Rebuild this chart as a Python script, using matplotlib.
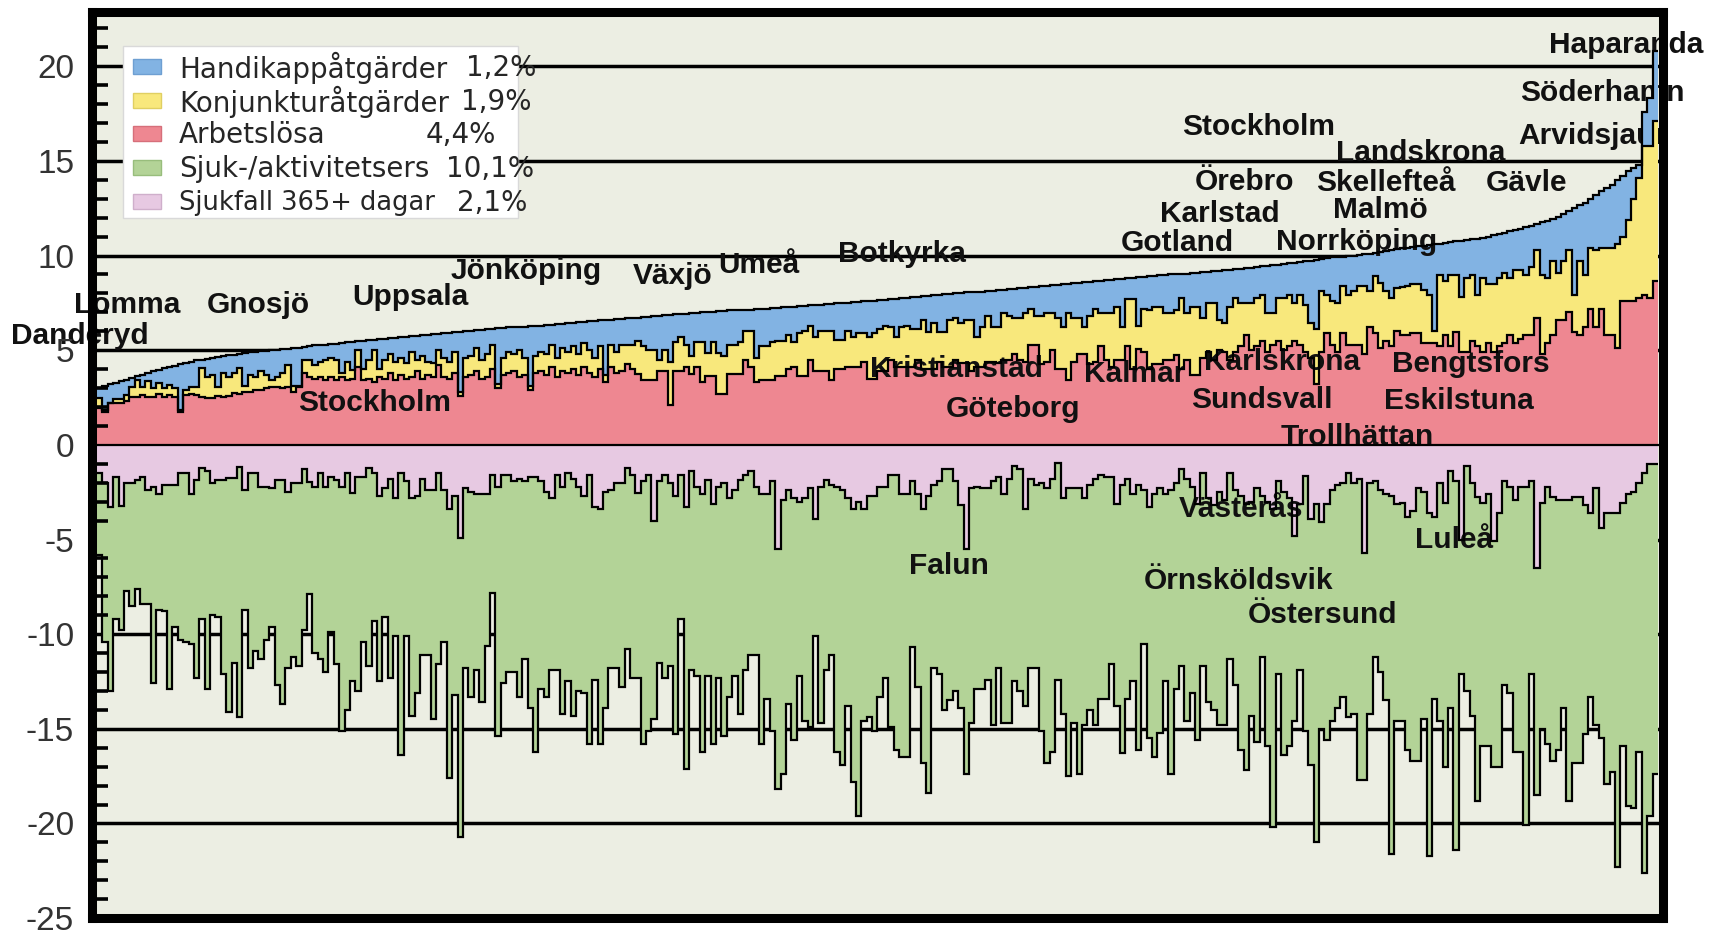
import numpy as np
import matplotlib
matplotlib.use('Agg')
import matplotlib.pyplot as plt
from matplotlib.patches import Rectangle

# ---- data, one value per municipality, sorted by total ----
# upper side: cumulative tops of Arbetslösa, +Konjunkturåtgärder, +Handikappåtgärder
arbetslosa_topp = [
    1.94, 1.76, 2.2, 2.2, 2.2, 2.3, 2.55, 2.55, 2.64, 2.55,
    2.55, 2.7, 2.55, 2.64, 2.55, 1.76, 2.64, 2.7, 2.64, 2.55,
    2.46, 2.46, 2.6, 2.55, 2.6, 2.73, 2.7, 2.8, 2.8, 2.9,
    2.9, 3.0, 3.08, 3.08, 3.0, 3.08, 2.8, 3.08, 3.8, 3.6,
    3.5, 3.6, 3.4, 3.6, 3.4, 3.6, 3.4, 3.5, 4.1, 3.4,
    3.5, 3.3, 3.6, 3.5, 3.8, 3.4, 3.7, 3.5, 3.6, 3.9,
    3.5, 3.7, 3.6, 4.2, 3.6, 3.5, 3.8, 2.6, 3.6, 3.7,
    3.9, 3.5, 3.6, 4.0, 3.0, 3.7, 3.8, 3.9, 3.6, 3.7,
    2.9, 3.8, 3.9, 3.7, 4.1, 3.6, 3.9, 3.8, 4.0, 3.7,
    4.1, 3.8, 3.6, 4.0, 3.3, 4.1, 3.8, 3.9, 4.25, 4.0,
    3.75, 3.4, 3.4, 3.4, 3.9, 3.9, 2.1, 3.9, 3.9, 4.1,
    3.75, 4.1, 3.3, 3.65, 3.65, 2.7, 2.7, 3.75, 3.75, 3.75,
    4.5, 4.1, 3.3, 3.4, 3.4, 3.4, 3.65, 3.65, 4.0, 4.1,
    3.65, 3.65, 4.5, 3.9, 3.9, 3.9, 3.4, 4.0, 4.0, 4.1,
    4.1, 4.1, 4.4, 3.5, 3.5, 3.9, 3.9, 4.5, 4.1, 4.1,
    4.1, 4.1, 4.5, 4.0, 4.0, 4.0, 4.4, 4.1, 4.1, 4.5,
    4.3, 4.3, 3.9, 4.1, 4.1, 4.4, 4.4, 4.3, 4.5, 4.5,
    4.8, 4.5, 4.4, 5.3, 5.3, 4.25, 4.4, 5.0, 4.0, 4.0,
    3.4, 4.4, 4.8, 4.8, 4.25, 4.4, 5.2, 4.5, 4.1, 4.5,
    4.5, 5.2, 4.0, 5.05, 4.9, 4.0, 4.25, 4.25, 4.5, 4.5,
    4.75, 4.0, 4.5, 3.7, 3.7, 4.6, 4.9, 4.5, 5.0, 4.9,
    4.5, 4.9, 5.2, 5.8, 5.0, 5.2, 5.5, 4.9, 5.3, 5.5,
    5.0, 5.2, 5.5, 5.3, 4.9, 4.6, 3.2, 4.9, 5.9, 5.3,
    4.9, 5.9, 5.3, 5.3, 5.3, 4.8, 6.2, 5.9, 5.1, 5.5,
    5.2, 6.0, 5.8, 5.8, 5.9, 5.9, 5.4, 5.4, 5.4, 5.2,
    5.8, 5.2, 5.95, 4.9, 4.9, 5.5, 5.2, 4.9, 5.4, 4.9,
    5.2, 5.4, 5.8, 5.4, 5.6, 5.8, 5.8, 6.7, 4.8, 5.4,
    5.8, 6.6, 6.6, 7.0, 5.95, 5.8, 6.25, 7.2, 6.25, 7.2,
    5.8, 5.8, 5.1, 7.6, 7.6, 7.6, 7.75, 7.9, 7.75, 8.65,
]
konjunktur_topp = [
    2.46, 1.85, 2.2, 2.4, 2.4, 2.64, 3.08, 3.43, 3.08, 3.35,
    3.0, 3.25, 3.0, 3.15, 3.0, 1.85, 2.9, 3.08, 3.08, 4.05,
    3.6, 3.7, 3.08, 3.8, 3.6, 3.8, 4.05, 3.1, 3.7, 3.6,
    3.9, 3.7, 3.4, 3.6, 3.8, 4.2, 3.1, 3.1, 4.5, 4.5,
    4.2, 4.4, 4.5, 4.6, 4.5, 3.8, 4.4, 3.95, 5.0, 4.0,
    4.5, 5.0, 4.0, 4.5, 4.8, 4.4, 4.6, 4.3, 4.9, 4.5,
    4.7, 4.4, 4.3, 5.0, 4.6, 4.4, 4.9, 2.8, 4.6, 4.7,
    5.1, 4.5, 4.8, 5.3, 3.2, 4.6, 4.9, 4.8, 5.0, 4.6,
    3.1, 4.7, 4.9, 4.8, 5.3, 4.6, 5.1, 4.9, 5.2, 4.8,
    5.4, 5.0, 4.6, 5.2, 3.7, 5.3, 4.9, 5.3, 5.3, 5.3,
    5.5, 5.2, 5.0, 5.0, 4.5, 5.0, 4.4, 5.45, 5.7, 5.3,
    4.7, 5.45, 5.45, 4.85, 5.45, 4.85, 4.7, 5.3, 5.3, 5.45,
    6.0, 6.0, 4.6, 5.2, 5.2, 5.45, 5.5, 5.5, 5.8, 5.45,
    5.9, 6.0, 6.3, 5.7, 6.0, 6.0, 6.0, 5.55, 5.55, 6.0,
    5.7, 5.9, 5.9, 5.7, 5.9, 6.1, 6.3, 6.2, 5.7, 6.2,
    6.3, 6.1, 6.1, 6.6, 5.95, 6.45, 5.95, 5.95, 6.6, 6.7,
    6.45, 6.6, 6.6, 5.7, 6.2, 6.8, 6.2, 6.2, 6.95, 6.8,
    6.7, 6.7, 6.95, 7.2, 6.8, 6.8, 6.95, 6.95, 6.7, 6.2,
    6.95, 6.7, 6.7, 6.2, 6.8, 7.2, 6.95, 6.95, 6.95, 7.3,
    6.2, 7.7, 7.7, 6.3, 7.2, 7.1, 7.3, 7.3, 6.95, 6.95,
    7.1, 7.75, 6.95, 7.3, 7.3, 6.7, 7.5, 7.5, 6.6, 6.45,
    7.3, 7.75, 7.5, 7.5, 7.5, 7.75, 7.9, 6.95, 6.95, 7.75,
    7.75, 7.9, 7.5, 7.9, 7.4, 6.45, 6.1, 8.15, 7.9, 7.6,
    7.5, 8.4, 7.9, 8.15, 8.4, 8.4, 8.15, 8.9, 8.55, 8.15,
    7.75, 8.3, 8.35, 8.4, 8.5, 8.5, 8.2, 7.9, 6.0, 8.95,
    8.65, 8.95, 8.95, 7.8, 8.8, 8.95, 7.9, 8.8, 8.5, 8.5,
    8.8, 9.1, 8.8, 9.25, 9.25, 8.95, 9.4, 10.3, 8.95, 8.8,
    9.7, 9.1, 9.7, 10.3, 7.9, 9.7, 8.95, 10.4, 10.3, 10.4,
    10.4, 10.4, 10.6, 11.0, 11.9, 13.0, 14.1, 15.8, 15.8, 17.1,
]
handikapp_topp = [
    3.0, 3.1, 3.2, 3.25, 3.35, 3.45, 3.55, 3.65, 3.7, 3.8,
    3.9, 3.95, 4.05, 4.1, 4.15, 4.25, 4.3, 4.4, 4.5, 4.5,
    4.55, 4.6, 4.65, 4.7, 4.75, 4.75, 4.8, 4.85, 4.9, 4.9,
    4.95, 4.95, 5.0, 5.0, 5.05, 5.05, 5.1, 5.1, 5.15, 5.2,
    5.25, 5.25, 5.3, 5.35, 5.35, 5.4, 5.45, 5.45, 5.5, 5.5,
    5.55, 5.55, 5.6, 5.6, 5.65, 5.65, 5.7, 5.7, 5.75, 5.75,
    5.8, 5.8, 5.85, 5.85, 5.9, 5.9, 5.95, 5.95, 6.0, 6.0,
    6.05, 6.05, 6.1, 6.1, 6.15, 6.15, 6.2, 6.2, 6.25, 6.25,
    6.3, 6.3, 6.3, 6.35, 6.35, 6.4, 6.4, 6.45, 6.45, 6.5,
    6.5, 6.55, 6.55, 6.6, 6.6, 6.6, 6.65, 6.65, 6.7, 6.7,
    6.7, 6.75, 6.75, 6.8, 6.8, 6.85, 6.85, 6.9, 6.9, 6.9,
    6.95, 6.95, 7.0, 7.0, 7.0, 7.05, 7.05, 7.1, 7.1, 7.1,
    7.15, 7.15, 7.2, 7.2, 7.2, 7.25, 7.25, 7.3, 7.3, 7.3,
    7.35, 7.35, 7.4, 7.4, 7.4, 7.45, 7.45, 7.5, 7.5, 7.5,
    7.55, 7.55, 7.6, 7.6, 7.6, 7.65, 7.65, 7.7, 7.7, 7.75,
    7.75, 7.8, 7.8, 7.85, 7.85, 7.9, 7.9, 7.95, 7.95, 8.0,
    8.0, 8.05, 8.05, 8.1, 8.1, 8.15, 8.15, 8.2, 8.2, 8.25,
    8.25, 8.3, 8.3, 8.35, 8.35, 8.4, 8.4, 8.45, 8.45, 8.5,
    8.5, 8.55, 8.55, 8.6, 8.6, 8.65, 8.65, 8.7, 8.7, 8.75,
    8.75, 8.8, 8.8, 8.85, 8.85, 8.9, 8.9, 8.95, 8.95, 9.0,
    9.0, 9.05, 9.05, 9.1, 9.1, 9.15, 9.15, 9.2, 9.2, 9.25,
    9.25, 9.3, 9.3, 9.35, 9.35, 9.4, 9.45, 9.45, 9.5, 9.5,
    9.55, 9.6, 9.6, 9.65, 9.7, 9.7, 9.75, 9.8, 9.85, 9.9,
    9.9, 9.95, 10.0, 10.0, 10.05, 10.1, 10.1, 10.15, 10.2, 10.25,
    10.3, 10.35, 10.4, 10.4, 10.45, 10.5, 10.5, 10.55, 10.6, 10.6,
    10.65, 10.7, 10.75, 10.75, 10.8, 10.85, 10.9, 10.95, 11.0, 11.1,
    11.15, 11.2, 11.3, 11.35, 11.4, 11.5, 11.55, 11.65, 11.75, 11.85,
    11.95, 12.05, 12.2, 12.35, 12.5, 12.65, 12.8, 13.0, 13.2, 13.4,
    13.55, 13.75, 14.0, 14.2, 14.45, 14.6, 14.8, 17.6, 18.3, 20.8,
]
# lower side: bottom of Sjukfall 365+ dagar, bottom of Sjuk-/aktivitetsers (cumulative)
sjukfall_botten = [
    -1.5, -2.0, -3.3, -1.7, -3.25, -2.0, -2.0, -1.85, -1.7, -2.4,
    -2.2, -2.6, -2.1, -2.1, -2.1, -1.5, -1.5, -2.6, -1.85, -1.2,
    -1.4, -2.0, -1.85, -1.85, -1.75, -1.75, -1.15, -2.4, -1.5, -1.5,
    -2.2, -2.2, -2.3, -1.85, -1.85, -2.5, -2.0, -2.0, -1.3, -1.95,
    -2.2, -1.5, -2.2, -1.7, -1.85, -2.2, -1.5, -2.55, -1.7, -1.7,
    -1.2, -1.5, -2.7, -2.3, -1.8, -2.8, -1.5, -1.9, -2.8, -2.7,
    -1.8, -2.4, -2.4, -1.5, -2.4, -3.4, -2.7, -4.9, -2.3, -2.5,
    -2.6, -2.6, -2.6, -1.6, -2.2, -1.6, -1.6, -1.9, -1.8, -1.9,
    -1.7, -1.7, -1.9, -2.5, -2.8, -1.6, -2.2, -1.5, -1.8, -2.2,
    -2.7, -1.6, -3.3, -3.4, -2.5, -2.4, -2.0, -2.0, -1.2, -1.6,
    -2.55, -1.9, -1.6, -4.0, -1.9, -1.6, -2.0, -2.7, -1.6, -3.3,
    -1.4, -2.2, -2.6, -1.85, -3.1, -2.2, -2.0, -2.8, -2.4, -1.85,
    -1.6, -1.4, -2.2, -2.6, -2.6, -1.9, -5.5, -2.9, -2.4, -2.8,
    -3.0, -2.8, -2.3, -3.9, -2.2, -1.85, -2.1, -2.2, -2.4, -2.8,
    -3.4, -3.0, -3.4, -2.7, -2.7, -2.2, -2.2, -1.6, -1.6, -2.6,
    -2.6, -1.9, -2.6, -3.4, -2.7, -2.1, -1.9, -1.3, -1.3, -1.9,
    -3.2, -5.5, -2.3, -2.2, -2.3, -2.3, -1.9, -1.7, -2.6, -1.8,
    -1.1, -1.3, -3.4, -1.8, -2.1, -2.0, -2.3, -1.8, -0.95, -2.8,
    -2.3, -2.3, -2.3, -2.8, -2.1, -1.8, -1.6, -1.7, -1.7, -3.1,
    -2.1, -1.8, -2.6, -2.1, -2.4, -3.3, -2.6, -2.3, -2.6, -2.4,
    -2.0, -1.25, -1.8, -2.2, -3.1, -1.5, -2.8, -3.2, -2.5, -2.9,
    -1.5, -2.4, -2.7, -3.1, -3.0, -2.3, -2.7, -3.0, -3.4, -1.9,
    -2.5, -2.8, -4.8, -3.1, -1.65, -3.9, -3.1, -4.1, -3.1, -2.4,
    -2.1, -2.0, -1.5, -2.0, -1.8, -5.7, -2.0, -1.9, -2.4, -2.6,
    -2.7, -3.1, -3.05, -3.8, -3.5, -2.3, -2.5, -3.6, -3.8, -2.0,
    -3.05, -1.4, -1.9, -5.0, -1.1, -2.0, -2.75, -3.05, -2.6, -5.1,
    -3.6, -1.9, -2.2, -2.9, -2.2, -2.2, -1.9, -6.5, -3.05, -2.2,
    -2.75, -2.9, -2.9, -2.9, -2.75, -2.75, -3.2, -3.6, -2.3, -4.4,
    -3.6, -3.6, -3.6, -3.05, -2.6, -2.5, -2.0, -1.5, -1.0, -1.0,
]
sjuk_botten = [
    -5.8, -10.4, -13.0, -9.2, -9.8, -7.7, -8.5, -7.6, -8.4, -8.4,
    -12.6, -8.7, -8.8, -12.9, -9.6, -10.3, -10.4, -10.5, -12.3, -9.2,
    -12.9, -9.0, -9.1, -12.1, -14.1, -11.5, -14.4, -8.7, -11.8, -10.9,
    -11.3, -10.3, -9.6, -12.7, -13.7, -11.8, -11.2, -11.7, -9.8, -7.9,
    -11.0, -11.3, -12.0, -9.9, -11.6, -15.1, -14.0, -12.5, -13.0, -10.4,
    -11.7, -9.3, -12.5, -9.1, -12.3, -10.1, -16.4, -10.1, -14.3, -13.1,
    -11.1, -11.1, -14.5, -11.6, -10.4, -17.6, -13.2, -20.7, -11.8, -13.3,
    -11.9, -13.6, -10.6, -7.8, -15.4, -12.6, -12.0, -12.0, -13.3, -11.3,
    -13.9, -16.2, -12.9, -13.3, -11.9, -11.9, -14.2, -12.5, -14.3, -13.0,
    -13.1, -15.8, -12.4, -15.8, -13.9, -11.8, -11.8, -12.8, -10.8, -12.3,
    -12.3, -15.8, -15.1, -14.5, -11.5, -12.3, -11.7, -15.3, -9.2, -17.1,
    -11.9, -12.2, -16.2, -12.2, -15.8, -12.3, -15.4, -13.3, -12.2, -14.2,
    -11.9, -11.1, -11.1, -15.8, -13.4, -15.1, -18.2, -17.4, -13.7, -15.6,
    -12.2, -14.6, -14.9, -10.1, -14.7, -11.9, -11.1, -16.2, -16.9, -13.8,
    -17.8, -19.6, -14.6, -14.4, -15.1, -13.3, -12.3, -14.9, -16.1, -16.5,
    -16.5, -10.7, -12.8, -16.8, -18.4, -11.8, -12.1, -14.0, -13.5, -13.0,
    -13.9, -17.4, -14.7, -12.9, -12.9, -12.4, -14.8, -11.8, -14.7, -14.7,
    -12.5, -13.0, -13.8, -11.8, -11.8, -15.1, -16.8, -16.2, -12.4, -14.2,
    -17.5, -14.7, -17.4, -14.8, -14.0, -14.8, -13.4, -13.4, -11.6, -13.8,
    -16.3, -13.4, -12.5, -16.1, -10.5, -15.5, -16.5, -15.2, -12.5, -17.4,
    -12.9, -11.7, -14.6, -13.1, -15.6, -11.7, -13.6, -14.0, -14.8, -14.8,
    -11.3, -12.7, -16.1, -17.2, -14.3, -15.7, -11.2, -15.9, -20.2, -12.1,
    -16.4, -15.9, -14.6, -11.9, -15.1, -16.9, -21.0, -15.0, -15.6, -14.6,
    -13.9, -13.3, -14.4, -14.2, -17.7, -17.7, -14.2, -11.2, -12.0, -13.5,
    -21.6, -14.6, -14.6, -16.1, -16.7, -16.7, -14.5, -21.7, -13.4, -14.6,
    -17.0, -13.9, -21.4, -12.1, -13.0, -14.3, -18.8, -15.9, -15.9, -17.0,
    -17.0, -12.7, -13.1, -16.2, -16.2, -20.1, -12.1, -18.5, -15.0, -15.8,
    -16.7, -16.1, -13.9, -18.8, -16.8, -16.8, -15.3, -13.3, -14.8, -15.5,
    -17.9, -17.3, -22.3, -15.9, -19.1, -19.2, -16.2, -22.6, -19.6, -17.4,
]

serie_namn = ['Handikappåtgärder', 'Konjunkturåtgärder', 'Arbetslösa',
              'Sjuk-/aktivitetsers', 'Sjukfall 365+ dagar']
serie_andel = ['1,2%', '1,9%', '4,4%', '10,1%', '2,1%']

# municipality annotations: (name, left x in bar units, y)
kommun_etiketter = [
    ('Haparanda', 269.2, 21.1), ('Söderhamn', 263.8, 18.6), ('Arvidsjaur', 263.6, 16.3),
    ('Stockholm', 201.0, 16.8), ('Landskrona', 229.6, 15.4), ('Örebro', 203.4, 13.9),
    ('Skellefteå', 225.9, 13.85), ('Gävle', 257.5, 13.85), ('Karlstad', 196.9, 12.2),
    ('Malmö', 229.2, 12.4), ('Gotland', 189.6, 10.65), ('Norrköping', 218.5, 10.7),
    ('Botkyrka', 137.2, 10.1), ('Umeå', 114.9, 9.5), ('Jönköping', 65.2, 9.2),
    ('Växjö', 99.1, 8.9), ('Uppsala', 47.0, 7.8), ('Gnosjö', 19.9, 7.4),
    ('Lomma', -4.7, 7.4), ('Danderyd', -16.4, 5.75), ('Kristianstad', 143.1, 4.03),
    ('Karlskrona', 205.2, 4.4), ('Bengtsfors', 240.0, 4.26), ('Kalmar', 182.9, 3.75),
    ('Stockholm', 36.9, 2.2), ('Sundsvall', 202.8, 2.35), ('Eskilstuna', 238.6, 2.3),
    ('Göteborg', 157.1, 1.9), ('Trollhättan', 219.4, 0.4), ('Västerås', 200.5, -3.4),
    ('Luleå', 244.3, -5.0), ('Falun', 150.4, -6.4), ('Örnsköldsvik', 194.0, -7.2),
    ('Östersund', 213.3, -9.0),
]

# ---- derived segment heights ----
R = np.array(arbetslosa_topp)
Y = np.array(konjunktur_topp)
B = np.array(handikapp_topp)
P = np.array(sjukfall_botten)
G = np.array(sjuk_botten)
n = len(R)
for a in (Y, B, P, G):
    assert len(a) == n, (len(a), n)
x = np.arange(n)
edges = np.arange(n + 1) - 0.5

c_bg = '#ECEEE3'
c_blue = '#82B3E3'
c_yellow = '#F8E87C'
c_red = '#EE8791'
c_green = '#B3D397'
c_pink = '#E7C9E2'

W, H = 1711, 930
fig = plt.figure(figsize=(W / 100, H / 100), dpi=100)
fig.patch.set_facecolor('white')
ax = fig.add_axes([92.3 / W, 1 - 918.1 / H, (1662.5 - 92.3) / W, 905.6 / H])
ax.set_facecolor(c_bg)
ax.set_xlim(-0.5 - 4.7 / 5.383, n - 0.5 + 4.5 / 5.383)
ax.set_ylim(-25, 22.84)

# gridlines (behind bars)
for v in [-20, -15, -10, -5, 5, 10, 15, 20]:
    ax.axhline(v, color='black', lw=2.5, zorder=1)

def draw_fills(sl, z):
    ax.bar(x[sl], R[sl], bottom=0, width=1.0, color=c_red, linewidth=0, zorder=z)
    ax.bar(x[sl], (Y - R)[sl], bottom=R[sl], width=1.0, color=c_yellow, linewidth=0, zorder=z)
    ax.bar(x[sl], (B - Y)[sl], bottom=Y[sl], width=1.0, color=c_blue, linewidth=0, zorder=z)
    ax.bar(x[sl], P[sl], bottom=0, width=1.0, color=c_pink, linewidth=0, zorder=z)
    ax.bar(x[sl], (G - P)[sl], bottom=P[sl], width=1.0, color=c_green, linewidth=0, zorder=z)

draw_fills(slice(0, n), 2)
# the last bars cover their neighbouring labels
draw_fills(slice(n - 4, n), 3.5)

for name, lx, ly in kommun_etiketter:
    ax.text(lx, ly, name, ha='left', va='center', fontsize=21.5, fontweight='bold',
            family='Liberation Sans', color='#111111', zorder=3, clip_on=False)

for arr in (R, Y, B, P, G):
    ax.stairs(arr, edges, baseline=None, color='black', lw=1.6, zorder=4)
ax.axhline(0, color='black', lw=1.6, zorder=4)

# spines and ticks
for s in ax.spines.values():
    s.set_linewidth(6.5)
    s.set_color('black')
    s.set_zorder(10)
ax.set_xticks([])
major = list(range(-25, 21, 5))
ax.set_yticks(major)
ax.set_yticklabels([str(v) for v in major], family='Liberation Sans')
ax.set_yticks([v for v in range(-24, 23) if v % 5 != 0], minor=True)
ax.tick_params(axis='y', which='major', length=0, pad=13, labelsize=24, labelcolor='#333333')
ax.tick_params(axis='y', which='minor', direction='in', length=11.5, width=2.6, color='black')
ax.yaxis.set_zorder(9)

# legend (drawn manually, in figure pixels)
def fx(px):
    return px / W

def fy(py):
    return 1 - py / H

ax.add_patch(Rectangle((fx(123), fy(218)), fx(518) - fx(123), fy(46) - fy(218),
                       transform=fig.transFigure, facecolor='white', edgecolor='#d9d9d9',
                       lw=1.0, zorder=5, clip_on=False))
leg_colors = [c_blue, c_yellow, c_red, c_green, c_pink]
leg_edges = ['#6E9FD2', '#E0CF62', '#D66F7A', '#98BD7C', '#CFAFCB']
pct_right = [536, 531, 496, 534, 527]
name_size = [20, 20, 20, 20, 18.5]
for k in range(5):
    yc = 66.5 + 33.7 * k
    ax.add_patch(Rectangle((fx(133), fy(yc + 7.5)), fx(161) - fx(133), fy(yc - 7.5) - fy(yc + 7.5),
                           transform=fig.transFigure, facecolor=leg_colors[k],
                           edgecolor=leg_edges[k], lw=1.0, zorder=6, clip_on=False))
    ax.text(fx(179), fy(yc + 1.5), serie_namn[k], transform=fig.transFigure, ha='left',
            va='center', fontsize=name_size[k], family='DejaVu Sans', color='#262626', zorder=6)
    ax.text(fx(pct_right[k]), fy(yc + 1.5), serie_andel[k], transform=fig.transFigure, ha='right',
            va='center', fontsize=20, family='DejaVu Sans', color='#262626', zorder=6)

fig.savefig('out.png', dpi=100, facecolor='white')
